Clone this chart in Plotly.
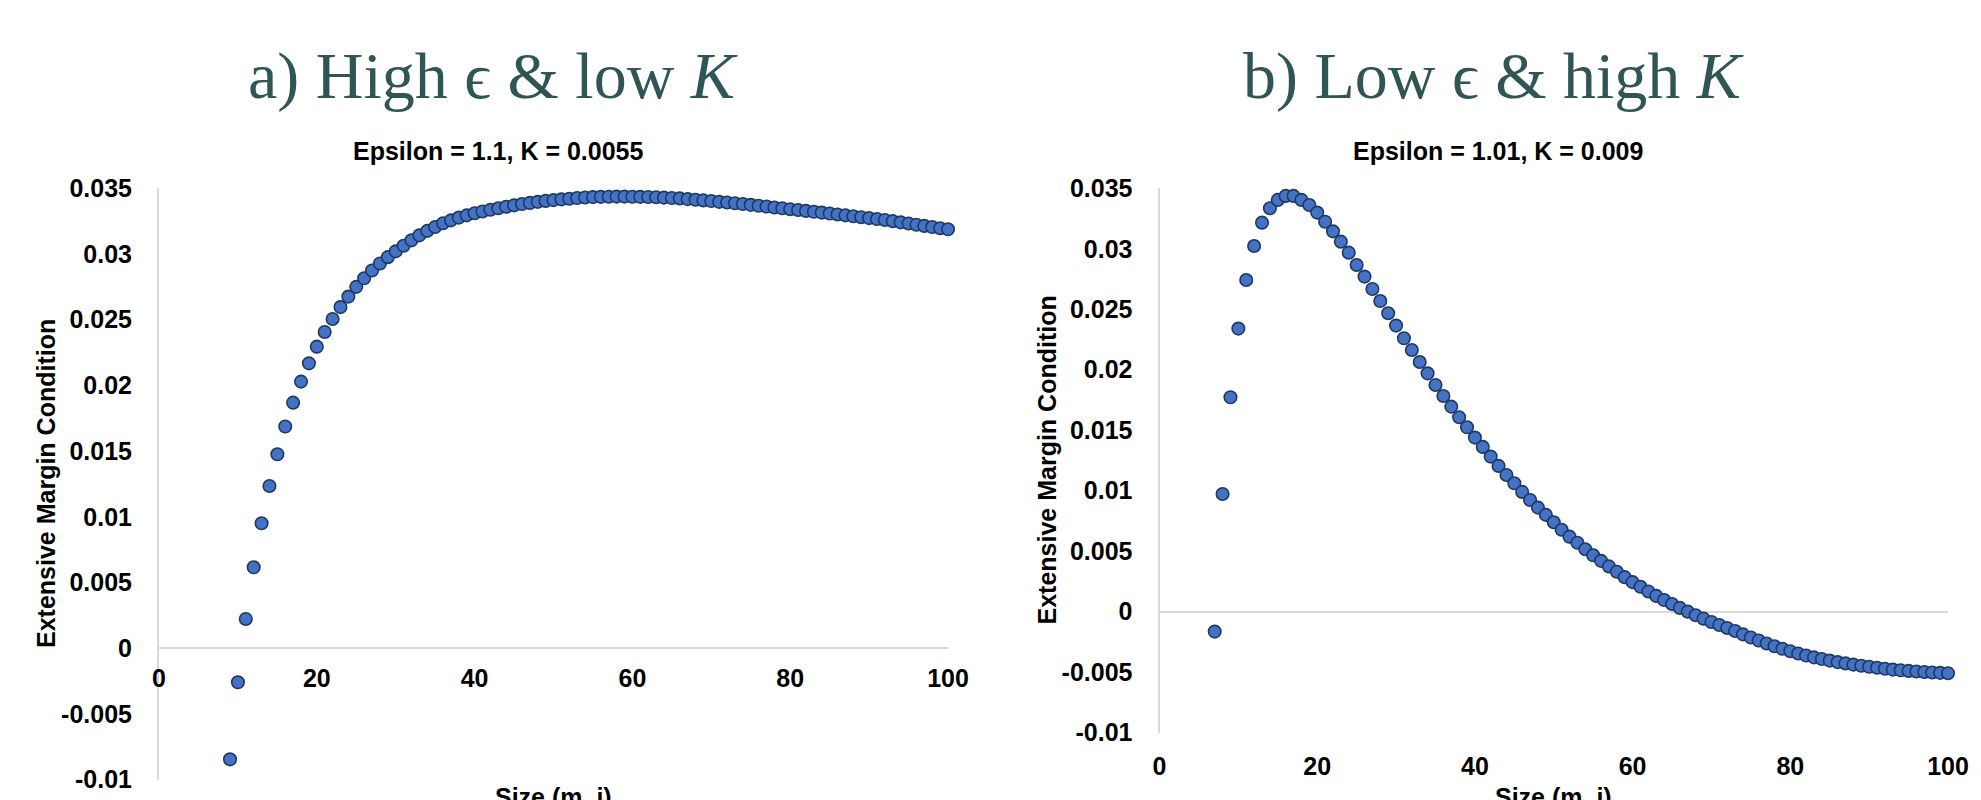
import plotly.graph_objects as go

# ---------------- data ----------------
size_a = list(range(9, 101))
emc_a = [
    -0.00845, -0.00259, 0.00223, 0.00616, 0.00951, 0.01235, 0.01476, 0.01687,
    0.01869, 0.02029, 0.02168, 0.02295, 0.02407, 0.02506, 0.02596, 0.02676,
    0.02750, 0.02815, 0.02875, 0.02928, 0.02976, 0.03020, 0.03063, 0.03104,
    0.03142, 0.03176, 0.03206, 0.03234, 0.03256, 0.03277, 0.03294, 0.03310,
    0.03324, 0.03337, 0.03348, 0.03360, 0.03370, 0.03380, 0.03389, 0.03397,
    0.03404, 0.03410, 0.03416, 0.03421, 0.03426, 0.03430, 0.03433, 0.03435,
    0.03436, 0.03437, 0.03437, 0.03436, 0.03435, 0.03434, 0.03432, 0.03429,
    0.03426, 0.03423, 0.03418, 0.03413, 0.03408, 0.03403, 0.03397, 0.03392,
    0.03386, 0.03380, 0.03374, 0.03367, 0.03361, 0.03354, 0.03348, 0.03341,
    0.03335, 0.03328, 0.03321, 0.03315, 0.03308, 0.03301, 0.03294, 0.03287,
    0.03280, 0.03273, 0.03266, 0.03259, 0.03250, 0.03241, 0.03232, 0.03223,
    0.03214, 0.03205, 0.03196, 0.03188,
]

size_b = list(range(7, 101))
emc_b = [
    -0.00165, 0.00973, 0.01772, 0.02340, 0.02742, 0.03023, 0.03216, 0.03335,
    0.03404, 0.03437, 0.03437, 0.03404, 0.03362, 0.03299, 0.03224, 0.03144,
    0.03059, 0.02968, 0.02866, 0.02770, 0.02668, 0.02568, 0.02467, 0.02365,
    0.02260, 0.02163, 0.02064, 0.01970, 0.01874, 0.01783, 0.01695, 0.01607,
    0.01524, 0.01439, 0.01362, 0.01282, 0.01205, 0.01130, 0.01061, 0.00990,
    0.00923, 0.00860, 0.00800, 0.00739, 0.00677, 0.00620, 0.00570, 0.00516,
    0.00466, 0.00420, 0.00374, 0.00330, 0.00285, 0.00244, 0.00206, 0.00167,
    0.00130, 0.00096, 0.00063, 0.00031, 0.00000, -0.00030, -0.00058, -0.00085,
    -0.00110, -0.00135, -0.00160, -0.00188, -0.00214, -0.00239, -0.00263,
    -0.00286, -0.00307, -0.00327, -0.00346, -0.00363, -0.00378, -0.00392,
    -0.00405, -0.00417, -0.00428, -0.00438, -0.00447, -0.00456, -0.00464,
    -0.00472, -0.00479, -0.00485, -0.00490, -0.00495, -0.00499, -0.00503,
    -0.00506, -0.00509,
]

y_tickvals = [0.035, 0.03, 0.025, 0.02, 0.015, 0.01, 0.005, 0, -0.005, -0.01]
y_ticktext = ["0.035", "0.03", "0.025", "0.02", "0.015", "0.01", "0.005", "0", "-0.005", "-0.01"]
x_tickvals = [0, 20, 40, 60, 80, 100]
x_ticktext = ["0", "20", "40", "60", "80", "100"]

panel_titles = ["a) High ϵ &amp; low <i>K</i>", "b) Low ϵ &amp; high <i>K</i>"]
sub_titles = ["Epsilon = 1.1, K = 0.0055", "Epsilon = 1.01, K = 0.009"]
x_title = "Size (m_i)"
y_title = "Extensive Margin Condition"

# ---------------- style ----------------
OFF = 8                     # default page body margin (px)
W, H = 1981 - OFF, 800 - OFF
FILL = "#4472C4"
EDGE = "#1F3864"
GRID = "#D9D9D9"
TITLE_COLOR = "#2F5555"
tick_font = dict(family="Liberation Sans, Arial, sans-serif", size=25, color="black", weight="bold")

def px_x(v):
    """page pixel -> paper x"""
    return (v - OFF) / W

def px_y(v):
    """page pixel -> paper y"""
    return 1 - (v - OFF) / H

marker = dict(size=12.5, color=FILL, line=dict(color=EDGE, width=1.6), symbol="circle")

fig = go.Figure()
fig.add_trace(go.Scatter(x=size_a, y=emc_a, mode="markers", marker=marker,
                         xaxis="x", yaxis="y", cliponaxis=False, showlegend=False,
                         hoverinfo="x+y"))
fig.add_trace(go.Scatter(x=size_b, y=emc_b, mode="markers", marker=marker,
                         xaxis="x2", yaxis="y2", cliponaxis=False, showlegend=False,
                         hoverinfo="x+y"))

common_y = dict(range=[-0.01, 0.035], tickvals=y_tickvals, ticktext=y_ticktext,
                showgrid=False, zeroline=True, zerolinecolor=GRID, zerolinewidth=2,
                showline=True, linecolor=GRID, linewidth=2, ticks="",
                tickfont=tick_font, ticklabelstandoff=20, fixedrange=True,
                automargin=False)
common_x = dict(range=[0, 100], tickvals=x_tickvals, ticktext=x_ticktext,
                showgrid=False, zeroline=False, showline=False, ticks="",
                tickfont=tick_font, fixedrange=True, automargin=False)

fig.update_layout(
    template="none",
    width=W, height=H,
    margin=dict(l=0, r=0, t=0, b=0, pad=0, autoexpand=False),
    paper_bgcolor="white", plot_bgcolor="white",
    xaxis=dict(domain=[px_x(159), px_x(948)], anchor="free", position=px_y(648.3),
               ticklabelstandoff=13, **common_x),
    yaxis=dict(domain=[px_y(779.7), px_y(188.3)], anchor="x", **common_y),
    xaxis2=dict(domain=[px_x(1159.5), px_x(1948)], anchor="y2",
                ticklabelstandoff=16, **common_x),
    yaxis2=dict(domain=[px_y(732.6), px_y(188.3)], anchor="x2", **common_y),
)

annos = []
for cx, t in zip([493, 1493], panel_titles):
    annos.append(dict(text=t, x=px_x(cx), y=px_y(76), xref="paper", yref="paper",
                      xanchor="center", yanchor="middle", showarrow=False,
                      font=dict(family="Liberation Serif, serif", size=66, color=TITLE_COLOR)))
for cx, t in zip([498.5, 1498], sub_titles):
    annos.append(dict(text=t, x=px_x(cx), y=px_y(150.6), xref="paper", yref="paper",
                      xanchor="center", yanchor="middle", showarrow=False, font=tick_font))
for cx, cy in [(46, 484), (1046, 460.5)]:
    annos.append(dict(text=y_title, x=px_x(cx), y=px_y(cy), xref="paper", yref="paper",
                      xanchor="center", yanchor="middle", textangle=-90, showarrow=False,
                      font=tick_font))
for cx in [553.5, 1553.5]:
    annos.append(dict(text=x_title, x=px_x(cx), y=px_y(781), xref="paper", yref="paper",
                      xanchor="center", yanchor="top", showarrow=False, font=tick_font))
fig.update_layout(annotations=annos)

fig.write_html("out.html")
